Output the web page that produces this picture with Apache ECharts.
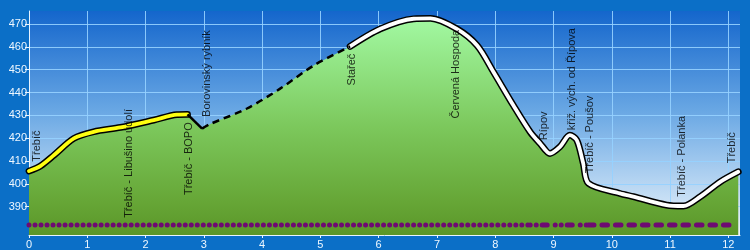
<!DOCTYPE html>
<html>
<head>
<meta charset="utf-8">
<script src="https://cdn.jsdelivr.net/npm/echarts@6/dist/echarts.min.js"></script>
<style>
html,body{margin:0;padding:0;background:#0b6fc7;}
#chart{width:750px;height:250px;}
</style>
</head>
<body>
<div id="chart"></div>
<script>
// ---- data ----
const profileKm = [0.00,0.20,0.43,0.77,1.11,1.57,2.14,2.54,2.72,2.97,3.11,3.74,4.31,4.89,5.51,6.03,6.60,6.89,7.34,7.69,7.97,8.31,8.60,8.77,8.94,9.11,9.28,9.40,9.51,9.60,10.14,10.37,10.94,11.23,11.52,11.86,12.17];
const profileElev = [405.6,407.9,412.6,419.9,422.8,424.7,427.9,430.3,430.4,424.2,426.2,433.0,441.7,451.9,460.2,467.9,472.3,472.5,467.9,460.6,449.0,434.4,422.7,417.7,413.3,416.2,421.3,419.1,409.0,400.2,395.8,394.4,390.7,390.3,394.4,400.9,405.3];
const yellowEndKm = 2.72;   // end of yellow (marked) part
const solidEndKm = 2.97;    // end of plain black part
const dashedEndKm = 5.51;   // end of dashed part, white part follows

const waypointNames = ['Třebíč','Třebíč - Libušino údolí','Třebíč - BOPO','Borovinský rybník','Stařeč','Červená Hospoda','Řípov','křiž. vých. od Řípova','Třebíč - Poušov','Třebíč - Polanka','Třebíč'];
const waypointKm = [0.14,1.71,2.74,3.06,5.54,7.32,8.83,9.32,9.63,11.20,12.06];
const waypointLabelElev = [409.7,385.1,395.1,429.3,443.1,428.6,419.1,423.5,404.6,394.4,409.0];

const surfaceElev = 382;
const surfaceDotted = [0, 8.6];
const surfaceMixed = [8.6, 9.6];
const surfaceDashed = [9.6, 12.12];

const xTicks = [0,1,2,3,4,5,6,7,8,9,10,11,12];
const yTicks = [390,400,410,420,430,440,450,460,470];

// ---- build ----
const pts = profileKm.map((k,i)=>[k, profileElev[i]]);
const idx = k => profileKm.indexOf(k);
const segYellow = pts.slice(0, idx(yellowEndKm)+1);
const segSolid = pts.slice(idx(yellowEndKm), idx(solidEndKm)+1);
const segDashed = pts.slice(idx(solidEndKm), idx(dashedEndKm)+1);
const segWhite = pts.slice(idx(dashedEndKm));
const labelsData = waypointNames.map((n,i)=>({name:n, value:[waypointKm[i], waypointLabelElev[i]]}));
const seg = r => [[r[0], surfaceElev],[r[1], surfaceElev]];

const SM = 0.3;
const base = {type:'line', smooth:SM, symbol:'none', silent:true, animation:false};

const chart = echarts.init(document.getElementById('chart'), null, {renderer:'canvas'});
chart.setOption({
  backgroundColor:'#0b6fc7',
  animation:false,
  grid:{left:29, right:10, top:11, bottom:15, show:true, borderWidth:0,
    backgroundColor:{type:'linear',x:0,y:0,x2:0,y2:1,colorStops:[
      {offset:0,color:'#1466cc'},{offset:0.45,color:'#6aa8e4'},{offset:1,color:'#eef6fc'}]}},
  xAxis:{type:'value', min:0, max:12.2,
    axisLine:{show:true, lineStyle:{color:'#e8f4ff', width:1}},
    axisTick:{show:true, length:3, customValues:xTicks, lineStyle:{color:'#e8f4ff'}},
    axisLabel:{customValues:xTicks, color:'#eef7ff', fontSize:11, fontFamily:'Liberation Sans, Arial', margin:4},
    splitLine:{show:true, lineStyle:{color:'rgba(150,210,255,0.9)', width:1}}},
  yAxis:{type:'value', min:377.6, max:475.7,
    axisLine:{show:true, lineStyle:{color:'#e8f4ff', width:1}},
    axisTick:{show:true, length:4, customValues:yTicks, lineStyle:{color:'#e8f4ff'}},
    axisLabel:{customValues:yTicks, color:'#eef7ff', fontSize:11, fontFamily:'Liberation Sans, Arial', margin:2},
    splitLine:{show:true, lineStyle:{color:'rgba(150,210,255,0.9)', width:1}}},
  series:[
    Object.assign({}, base, {data:pts, lineStyle:{width:0},
      areaStyle:{origin:'start', opacity:1, color:{type:'linear',x:0,y:0,x2:0,y2:1,colorStops:[
        {offset:0,color:'#a2f9a2'},{offset:0.5,color:'#7cc85c'},{offset:0.85,color:'#66a636'},{offset:1,color:'#5b9629'}]}}, z:2}),
    Object.assign({}, base, {data:segYellow, lineStyle:{color:'#000', width:6.8, cap:'round', join:'round'}, z:3}),
    Object.assign({}, base, {data:segWhite, lineStyle:{color:'#000', width:6.8, cap:'round', join:'round'}, z:3}),
    Object.assign({}, base, {data:segYellow, lineStyle:{color:'#ffff10', width:3.8, cap:'round', join:'round'}, z:4}),
    Object.assign({}, base, {data:segWhite, lineStyle:{color:'#ffffff', width:3.8, cap:'round', join:'round'}, z:4}),
    Object.assign({}, base, {data:segSolid, lineStyle:{color:'#000', width:2.5}, z:4}),
    Object.assign({}, base, {data:segDashed, lineStyle:{color:'#000', width:2.5, type:[7,5]}, z:4}),
    Object.assign({}, base, {smooth:false, data:seg(surfaceDotted), lineStyle:{color:'#6e0a72', width:5, cap:'round', type:[0.01,6]}, z:5}),
    Object.assign({}, base, {smooth:false, data:seg(surfaceMixed), lineStyle:{color:'#6e0a72', width:5, cap:'round', type:[0.01,6,0.01,6,5,8]}, z:5}),
    Object.assign({}, base, {smooth:false, data:seg(surfaceDashed), lineStyle:{color:'#6e0a72', width:5, cap:'round', type:[5.5,8]}, z:5}),
    {type:'scatter', data:labelsData, symbolSize:0, silent:true, animation:false, z:6,
      label:{show:true, formatter:p=>p.name, position:[0,0], rotate:90, align:'left', verticalAlign:'middle',
        color:'#000', fontSize:11, fontFamily:'Liberation Sans, Arial'}}
  ]
});
</script>
</body>
</html>
